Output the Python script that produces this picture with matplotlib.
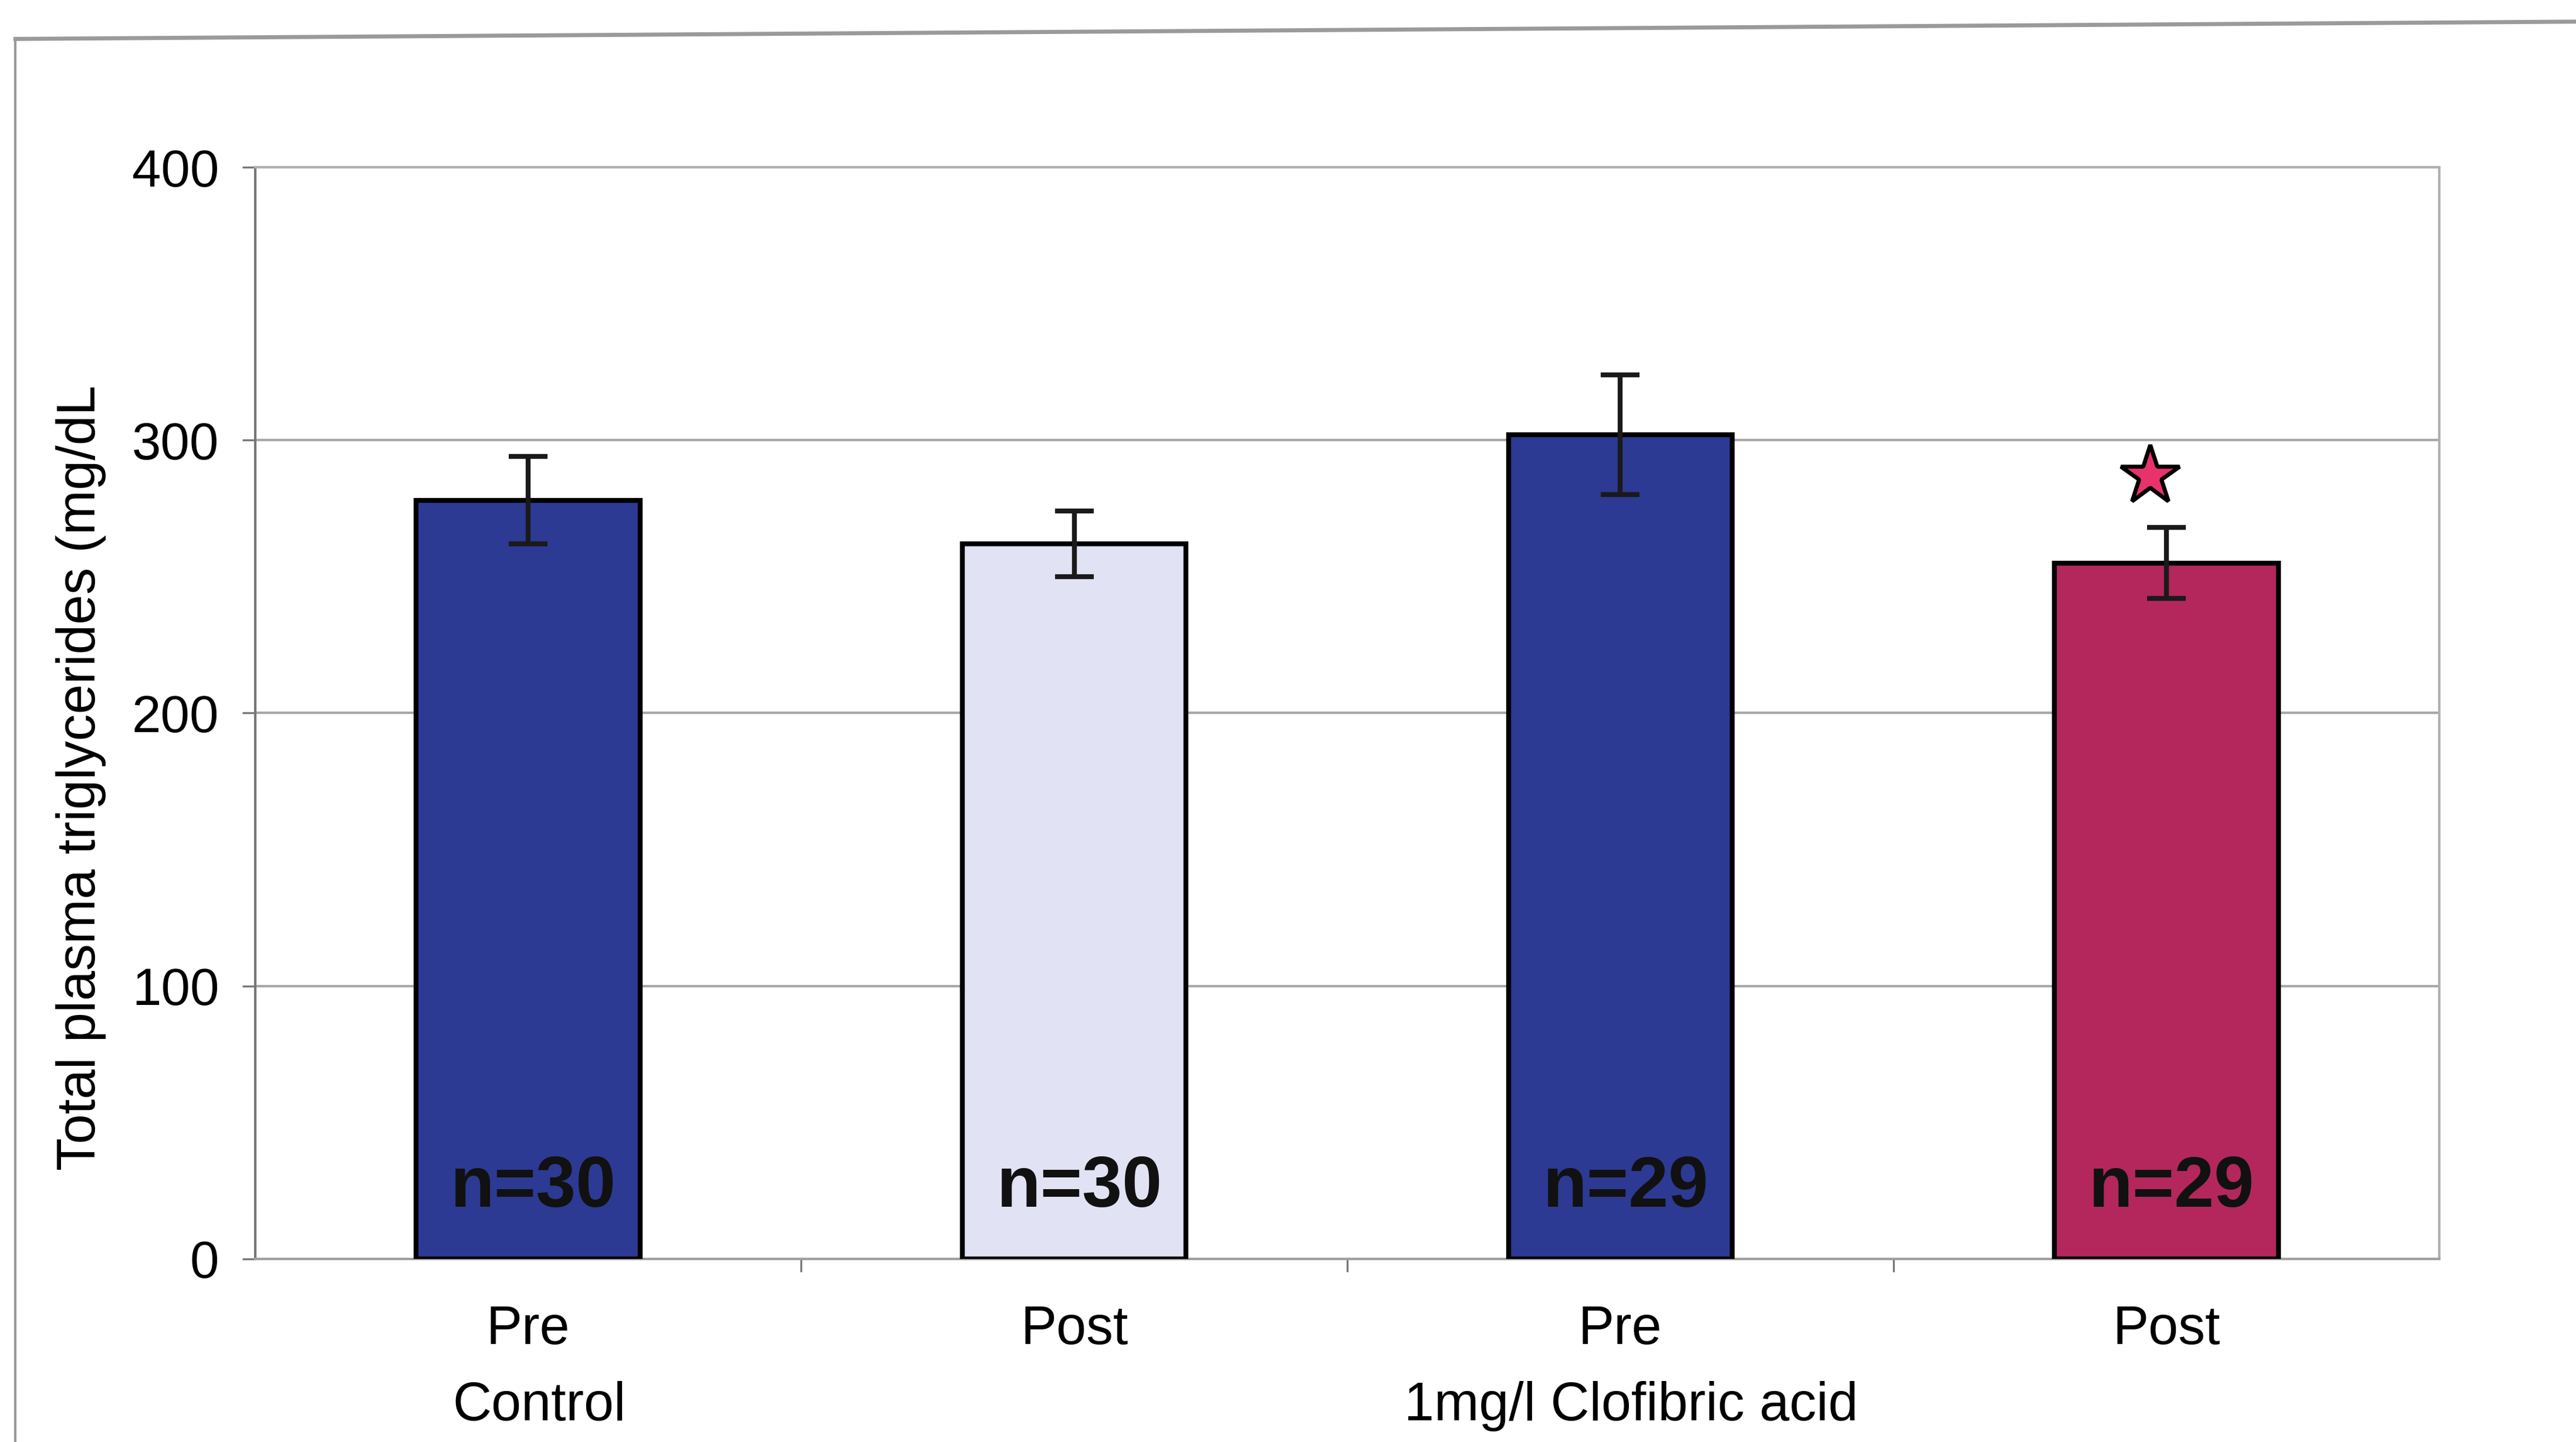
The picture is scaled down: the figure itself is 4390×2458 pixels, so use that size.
import matplotlib.pyplot as plt
import matplotlib.transforms as mtransforms
from matplotlib.lines import Line2D

# data
labels = ["Pre", "Post", "Pre", "Post"]
means = [278, 262, 302, 255]
sems = [16, 12, 22, 13]
n_labels = ["n=30", "n=30", "n=29", "n=29"]
groups = ["Control", "1mg/l Clofibric acid"]
group_pos = [0, 2]
colors = ["#2c3a94", "#e1e3f4", "#2c3a94", "#b3275c"]
star_x = [2.97]
star_y = [287]

plt.rcParams['font.family'] = ['Liberation Sans', 'DejaVu Sans']

fig = plt.figure(figsize=(21.95, 12.29), dpi=200)
fig.patch.set_facecolor("white")

# outer chart frame (only top and left edges are visible in the scan)
fig.add_artist(Line2D([0.006, 0.006], [0.0, 0.973], transform=fig.transFigure,
                      color="#9a9a9a", lw=1.5))
fig.add_artist(Line2D([0.006, 1.0], [0.973, 0.985], transform=fig.transFigure,
                      color="#9a9a9a", lw=2.5))

ax = fig.add_axes([0.099, 0.127, 0.848, 0.757])
x = list(range(len(means)))
ax.bar(x, means, width=0.41, color=colors, edgecolor="black", linewidth=3, zorder=3)
ax.errorbar(x, means, yerr=sems, fmt="none", ecolor="#1a1a1a", elinewidth=3,
            capsize=12, capthick=3, zorder=4)
ax.plot(star_x, star_y, marker="*", markersize=38, markerfacecolor="#e8326c",
        markeredgecolor="black", markeredgewidth=2.5, linestyle="none", zorder=5)

for xi, t in zip(x, n_labels):
    ax.text(xi + 0.01, 26, t, ha="center", va="center", fontsize=44, fontweight="bold",
            color="#111111", zorder=6)

ax.set_xlim(-0.5, 3.5)
ax.set_ylim(0, 400)
ax.set_yticks([0, 100, 200, 300, 400])
ax.yaxis.grid(True, color="#a8a8a8", linewidth=1.5, zorder=0)
ax.set_axisbelow(True)

ax.set_xticks(x)
ax.set_xticklabels(labels, fontsize=33)
ax.set_xticks([0.5, 1.5, 2.5], minor=True)
ax.tick_params(axis="x", which="major", length=0, pad=28)
ax.tick_params(axis="x", which="minor", length=8, width=1.2, color="#777777")
ax.tick_params(axis="y", length=8, width=1.2, color="#777777", labelsize=32, pad=14)

for side in ["top", "right"]:
    ax.spines[side].set_color("#b0b0b0")
    ax.spines[side].set_linewidth(1.5)
ax.spines["left"].set_color("#777777")
ax.spines["bottom"].set_color("#a0a0a0")
ax.spines["left"].set_linewidth(1.5)
ax.spines["bottom"].set_linewidth(1.5)

trans = mtransforms.blended_transform_factory(ax.transData, ax.transAxes)
for gp, g in zip(group_pos, groups):
    ax.text(gp + 0.02, -0.135, g, transform=trans, ha="center", va="center", fontsize=33)

ax.set_ylabel("Total plasma triglycerides (mg/dL", fontsize=33)
ax.yaxis.set_label_coords(-0.068, 0.441)

fig.savefig("out.png", dpi=200)
